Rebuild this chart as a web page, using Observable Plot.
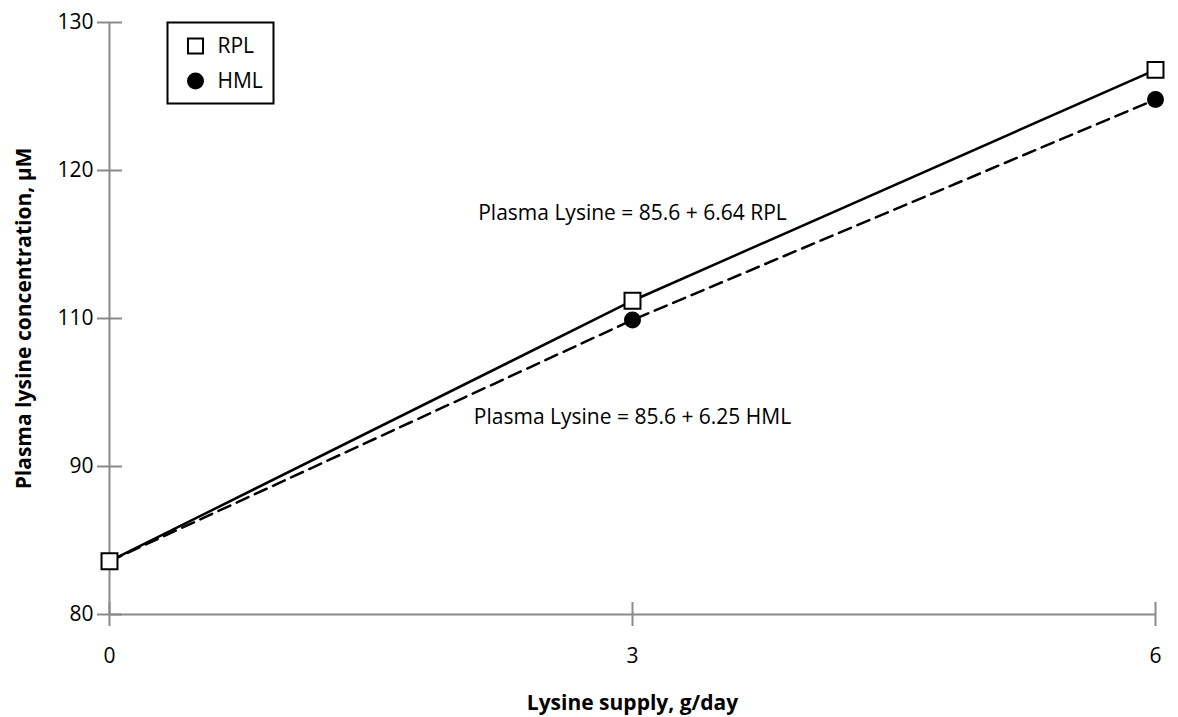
<!DOCTYPE html>
<html><head><meta charset="utf-8">
<script src="https://cdn.jsdelivr.net/npm/d3@7"></script>
<script src="https://cdn.jsdelivr.net/npm/@observablehq/plot@0.6"></script>
<style>body{margin:0;background:#fff}</style>
</head><body><div id="chart"></div>
<script>
const supply = [0, 3, 6];
const rpl = [83.6, 111.2, 126.8];
const hml = [83.6, 109.8, 124.8];
const yTicks = [80, 90, 110, 120, 130];
const xTicks = [0, 3, 6];
const seriesNames = ["RPL", "HML"];
const equations = ["Plasma Lysine = 85.6 + 6.64 RPL", "Plasma Lysine = 85.6 + 6.25 HML"];
const eqX = [3, 3];
const eqY = [117.1, 96.6];
const xLabel = "Lysine supply, g/day";
const yLabel = "Plasma lysine concentration, µM";

const rplData = supply.map((x, i) => ({x, y: rpl[i]}));
const hmlData = supply.map((x, i) => ({x, y: hml[i]}));
const eqData = equations.map((t, i) => ({t, x: eqX[i], y: eqY[i]}));

const W = 1178, H = 717, mL = 109, mR = 23, mT = 22, mB = 103;
const gray = "#8a8a8a";
const font = "Open Sans";
const fs = 21;

const chart = Plot.plot({
  width: W, height: H,
  marginLeft: mL, marginRight: mR, marginTop: mT, marginBottom: mB,
  style: {fontFamily: font, fontSize: fs + "px", color: "#000", background: "#fff"},
  x: {domain: [0, 6]},
  y: {type: "linear", domain: yTicks},
  marks: [
    Plot.ruleX([0], {stroke: gray, strokeWidth: 2}),
    Plot.ruleY([80], {stroke: gray, strokeWidth: 2}),
    Plot.axisY(yTicks, {tickSize: 12, tickPadding: 4, stroke: gray, strokeWidth: 2, fill: "#000", fontSize: fs, label: null}),
    Plot.axisY(yTicks, {tickSize: 13, dx: 13, stroke: gray, strokeWidth: 2, tickFormat: () => "", label: null}),
    Plot.axisX(xTicks, {tickSize: 12, tickPadding: 22, stroke: gray, strokeWidth: 2, fill: "#000", fontSize: fs, label: null, tickFormat: d3.format("d")}),
    Plot.axisX(xTicks, {tickSize: 12, dy: -12, stroke: gray, strokeWidth: 2, tickFormat: () => "", label: null}),
    Plot.text([yLabel], {frameAnchor: "left", rotate: -90, dx: -85, textAnchor: "middle", lineAnchor: "middle", fontWeight: "bold", fontSize: fs, fill: "#000"}),
    Plot.text([xLabel], {frameAnchor: "bottom", dy: 89, textAnchor: "middle", lineAnchor: "middle", fontWeight: "bold", fontSize: fs, fill: "#000"}),
    Plot.line(rplData, {x: "x", y: "y", stroke: "#000", strokeWidth: 2.5}),
    Plot.line(hmlData, {x: "x", y: "y", stroke: "#000", strokeWidth: 2.5, strokeDasharray: "13,7"}),
    Plot.dot(hmlData, {x: "x", y: "y", r: 8.5, fill: "#000"}),
    Plot.dot(rplData, {x: "x", y: "y", symbol: "square", r: 9, fill: "#fff", stroke: "#000", strokeWidth: 2}),
    Plot.text(eqData, {x: "x", y: "y", text: "t", fontSize: fs, fill: "#000", lineAnchor: "middle"}),
    // legend
    Plot.frame({insetLeft: 58, insetTop: 0, insetRight: (W - mR) - 273, insetBottom: (H - mB) - 103, stroke: "#000", strokeWidth: 2}),
    Plot.dot([seriesNames[0]], {frameAnchor: "top-left", dx: 86, dy: 23.5, symbol: "square", r: 8.5, fill: "#fff", stroke: "#000", strokeWidth: 2}),
    Plot.dot([seriesNames[1]], {frameAnchor: "top-left", dx: 86, dy: 58.5, r: 8.5, fill: "#000"}),
    Plot.text([seriesNames[0]], {frameAnchor: "top-left", dx: 108, dy: 23.5, textAnchor: "start", lineAnchor: "middle", fontSize: fs, fill: "#000"}),
    Plot.text([seriesNames[1]], {frameAnchor: "top-left", dx: 108, dy: 58.5, textAnchor: "start", lineAnchor: "middle", fontSize: fs, fill: "#000"})
  ]
});
document.getElementById("chart").appendChild(chart);
</script>
</body></html>
